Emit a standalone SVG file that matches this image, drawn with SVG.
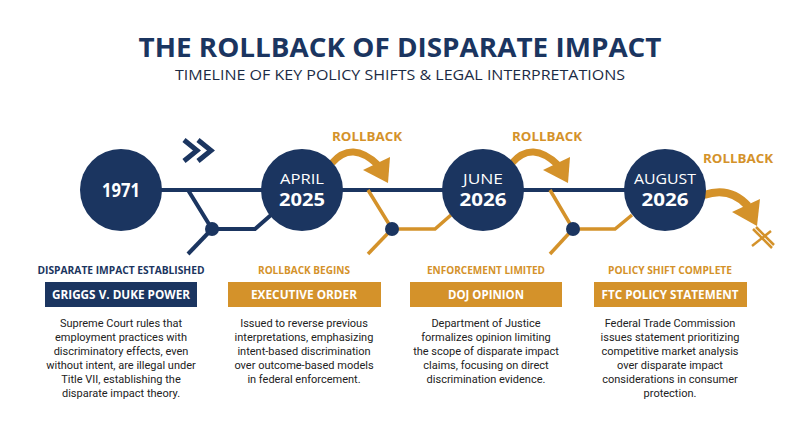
<svg xmlns="http://www.w3.org/2000/svg" width="800" height="447" viewBox="0 0 800 447">
<defs>
<style>
.navy{fill:#1b3560}
.gold{fill:#d4922a}
.title{font-family:"Open Sans","Liberation Sans",sans-serif;font-weight:700;fill:#1b3560}
.sub{font-family:"Open Sans","Liberation Sans",sans-serif;font-weight:400;fill:#1b2b45}
.cm{font-family:"Open Sans","Liberation Sans",sans-serif;fill:#fff;text-anchor:middle}
.lbl{font-family:"Open Sans","Liberation Sans",sans-serif;font-weight:700;font-size:11px;text-anchor:middle}
.box{font-family:"Open Sans","Liberation Sans",sans-serif;font-weight:700;font-size:13px;fill:#fff;text-anchor:middle}
.body{font-family:Roboto,"Liberation Sans",sans-serif;font-size:11px;fill:#222;text-anchor:middle}
.rb{font-family:"Open Sans","Liberation Sans",sans-serif;font-weight:700;font-size:13px;fill:#d4922a;text-anchor:middle}
.nl{stroke:#1b3560;fill:none;stroke-linejoin:miter}
.gl{stroke:#d4922a;fill:none;stroke-linejoin:miter}
</style>
</defs>
<rect width="800" height="447" fill="#fff"/>
<g id="header">
<text class="title" x="400" y="57" font-size="27" text-anchor="middle" textLength="523" lengthAdjust="spacingAndGlyphs">THE ROLLBACK OF DISPARATE IMPACT</text>
<text class="sub" x="400" y="80" font-size="15" text-anchor="middle" textLength="450" lengthAdjust="spacingAndGlyphs">TIMELINE OF KEY POLICY SHIFTS &amp; LEGAL INTERPRETATIONS</text>
</g>
<g id="connectors">
<line class="nl" x1="160" y1="190" x2="626" y2="190" stroke-width="4"/>
<polyline class="nl" stroke-width="4" points="188,190 212,229 255,229 271,215"/>
<line class="nl" stroke-width="4" x1="212" y1="229" x2="188" y2="254"/>
<circle class="navy" cx="212" cy="229" r="7"/>
<polyline class="gl" stroke-width="3.5" points="368,190 392,229 435,229 451,215"/>
<line class="gl" stroke-width="3.5" x1="392" y1="229" x2="368" y2="254"/>
<circle class="navy" cx="392" cy="229" r="7"/>
<polyline class="gl" stroke-width="3.5" points="550,190 573,229 615,229 632,215"/>
<line class="gl" stroke-width="3.5" x1="573" y1="229" x2="550" y2="254"/>
<circle class="navy" cx="573" cy="229" r="7"/>
<g id="chevrons" class="nl" stroke-width="5">
<polyline points="184,140 197,150.5 184,161"/>
<polyline points="198,140 211,150.5 198,161"/>
</g>
<g id="rollback1">
<text class="rb" x="367" y="141" textLength="70" lengthAdjust="spacingAndGlyphs">ROLLBACK</text>
<path class="gl" stroke-width="7" d="M332,163 Q352,140 378,165"/>
<polygon class="gold" points="363,170 390,157 388,183"/>
</g>
<g id="rollback2">
<text class="rb" x="547" y="141" textLength="70" lengthAdjust="spacingAndGlyphs">ROLLBACK</text>
<path class="gl" stroke-width="7" d="M512,163 Q532,140 558,165"/>
<polygon class="gold" points="543,170 570,157 568,183"/>
</g>
<g id="rollback3">
<text class="rb" x="738" y="163" textLength="70" lengthAdjust="spacingAndGlyphs">ROLLBACK</text>
<path class="gl" stroke-width="8" d="M704,195 Q730,186 748,206"/>
<polygon class="gold" points="732,212 760,199 757,226"/>
<g class="gl" stroke-width="2.5">
<line x1="753" y1="229" x2="772" y2="248"/>
<line x1="756" y1="227" x2="774" y2="245"/>
<line x1="752" y1="246" x2="771" y2="231"/>
</g>
</g>
</g>
<g id="node-1971">
<circle class="navy" cx="121" cy="190" r="41"/>
<text class="cm" x="121" y="197" font-size="19" font-weight="700" textLength="38" lengthAdjust="spacingAndGlyphs">1971</text>
</g>
<g id="node-april-2025">
<circle class="navy" cx="302" cy="190" r="41"/>
<text class="cm" x="302" y="184" font-size="14" textLength="44" lengthAdjust="spacingAndGlyphs">APRIL</text>
<text class="cm" x="302" y="206" font-size="18" font-weight="700" textLength="46" lengthAdjust="spacingAndGlyphs">2025</text>
</g>
<g id="node-june-2026">
<circle class="navy" cx="483" cy="190" r="41"/>
<text class="cm" x="483" y="184" font-size="14" textLength="40" lengthAdjust="spacingAndGlyphs">JUNE</text>
<text class="cm" x="483" y="206" font-size="18" font-weight="700" textLength="47" lengthAdjust="spacingAndGlyphs">2026</text>
</g>
<g id="node-august-2026">
<circle class="navy" cx="665" cy="190" r="41"/>
<text class="cm" x="665" y="184" font-size="14" textLength="62" lengthAdjust="spacingAndGlyphs">AUGUST</text>
<text class="cm" x="665" y="206" font-size="18" font-weight="700" textLength="47" lengthAdjust="spacingAndGlyphs">2026</text>
</g>
<g id="card-griggs">
<text class="lbl navy" x="121" y="274" textLength="167" lengthAdjust="spacingAndGlyphs">DISPARATE IMPACT ESTABLISHED</text>
<rect class="navy" x="45" y="282" width="152" height="25"/>
<text class="box" x="121" y="299" textLength="138" lengthAdjust="spacingAndGlyphs">GRIGGS V. DUKE POWER</text>
<text class="body" x="121" y="327">Supreme Court rules that</text>
<text class="body" x="121" y="341">employment practices with</text>
<text class="body" x="121" y="355">discriminatory effects, even</text>
<text class="body" x="121" y="369">without intent, are illegal under</text>
<text class="body" x="121" y="383">Title VII, establishing the</text>
<text class="body" x="121" y="397">disparate impact theory.</text>
</g>
<g id="card-executive-order">
<text class="lbl gold" x="304" y="274" textLength="92" lengthAdjust="spacingAndGlyphs">ROLLBACK BEGINS</text>
<rect class="gold" x="228" y="282" width="153" height="25"/>
<text class="box" x="304" y="299" textLength="106" lengthAdjust="spacingAndGlyphs">EXECUTIVE ORDER</text>
<text class="body" x="304" y="327">Issued to reverse previous</text>
<text class="body" x="304" y="341">interpretations, emphasizing</text>
<text class="body" x="304" y="355">intent-based discrimination</text>
<text class="body" x="304" y="369">over outcome-based models</text>
<text class="body" x="304" y="383">in federal enforcement.</text>
</g>
<g id="card-doj-opinion">
<text class="lbl gold" x="486" y="274" textLength="118" lengthAdjust="spacingAndGlyphs">ENFORCEMENT LIMITED</text>
<rect class="gold" x="410" y="282" width="152" height="25"/>
<text class="box" x="486" y="299" textLength="76" lengthAdjust="spacingAndGlyphs">DOJ OPINION</text>
<text class="body" x="486" y="327">Department of Justice</text>
<text class="body" x="486" y="341">formalizes opinion limiting</text>
<text class="body" x="486" y="355">the scope of disparate impact</text>
<text class="body" x="486" y="369">claims, focusing on direct</text>
<text class="body" x="486" y="383">discrimination evidence.</text>
</g>
<g id="card-ftc-policy">
<text class="lbl gold" x="670" y="274" textLength="124" lengthAdjust="spacingAndGlyphs">POLICY SHIFT COMPLETE</text>
<rect class="gold" x="594" y="282" width="153" height="25"/>
<text class="box" x="670" y="299" textLength="137" lengthAdjust="spacingAndGlyphs">FTC POLICY STATEMENT</text>
<text class="body" x="670" y="327">Federal Trade Commission</text>
<text class="body" x="670" y="341">issues statement prioritizing</text>
<text class="body" x="670" y="355">competitive market analysis</text>
<text class="body" x="670" y="369">over disparate impact</text>
<text class="body" x="670" y="383">considerations in consumer</text>
<text class="body" x="670" y="397">protection.</text>
</g>
</svg>
